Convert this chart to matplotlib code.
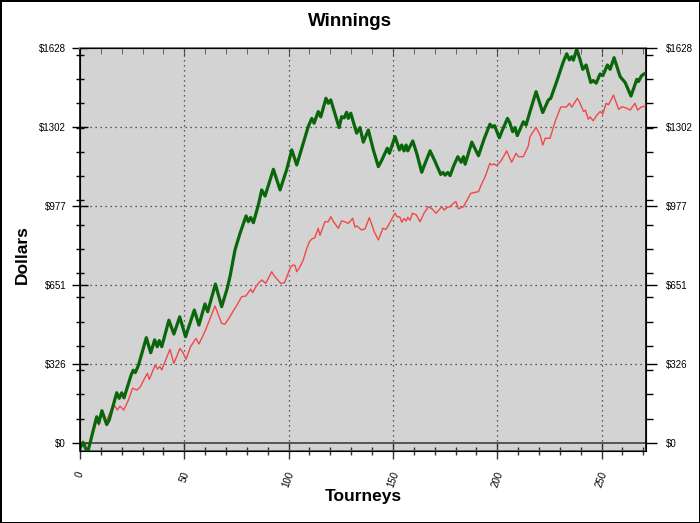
import numpy as np, matplotlib; matplotlib.use("Agg")
import matplotlib.pyplot as plt
from matplotlib.ticker import MultipleLocator, FixedLocator

plt.rcParams['font.family'] = ['Liberation Sans', 'DejaVu Sans']

# tourney number / cumulative dollars
green_t = [0,1.5,3,4,8,9,10.5,12.8,14,17.6,18.8,20,21.1,24.5,25.5,26.5,28,31.8,33.9,35.8,37,38,39.2,42.6,45,47.8,50.6,54.8,57,59.9,61.2,64.9,67.9,70.6,72,74.3,76.7,79.6,80.7,81.8,83.1,85.5,87.1,88.7,92.7,95.9,99.1,101.5,103.9,107,109.4,111.1,112.2,114.2,115.4,117.9,119,120.2,124.2,125.4,126.6,127.8,128.6,129.8,132.6,134.2,135.8,138.2,140.6,143,144.6,147.3,148.3,151,153.1,154.2,155.3,156.3,157.1,159.5,161.4,163.8,165.3,167.8,170.2,172.9,174,175,176.3,177.4,179,181.1,182.7,183.8,184.6,187.8,191,193.7,196.5,197.6,198.7,201,202,204.9,206,207.4,208.5,209.6,212.5,213.8,215.7,218.6,221.8,224.5,225.6,228.5,231.7,233.3,234.6,235.7,236.5,238.1,239.7,241,242.6,244.8,246,247.4,249.3,250.6,252.8,254.1,256,258.9,261.3,264.1,266.9,267.7,269.2,270.9]
green_d = [-22,2,-28,-28,108,82,133,76,95,207,184,207,186,280,300,290,320,434,372,425,397,422,397,506,449,520,438,548,486,573,541,655,562,638,690,796,864,936,912,930,908,981,1043,1018,1128,1043,1128,1208,1146,1235,1304,1338,1318,1366,1344,1421,1400,1414,1300,1345,1340,1363,1338,1359,1277,1300,1240,1290,1208,1139,1165,1215,1194,1263,1208,1228,1204,1228,1204,1245,1194,1116,1150,1204,1160,1107,1115,1104,1115,1102,1140,1180,1157,1180,1149,1240,1184,1253,1314,1302,1308,1258,1280,1338,1320,1283,1300,1267,1324,1310,1366,1448,1362,1414,1420,1490,1572,1604,1579,1592,1578,1623,1580,1540,1558,1486,1494,1483,1521,1514,1558,1540,1588,1510,1486,1430,1499,1490,1514,1524]

red_t = [0,1.5,2.8,4,8,9,10.4,12.3,15.2,16.8,17.9,19.2,21,23.2,25.2,27.2,28.8,30.7,32.3,33.2,36,37.2,38.3,39.2,43.1,45,47.9,49.5,50.8,53,55.6,57,59.1,60.4,62.7,64.7,67.9,69.5,71.9,73.5,75,77.5,79.5,81.8,82.8,84,85.5,87.1,89,90.3,91.9,93,96.2,98,100.7,102,103,103.9,105.5,107,108.7,110,111.1,112.5,114.2,115,117.4,119,120.2,121.5,123.8,125.4,127,128.6,130.7,131.8,132.6,135,136.6,138.7,141,143,144.6,145.1,146.6,148,151,152.1,153.3,154.2,155.3,156.3,157.1,158.2,159.3,161.2,163,164.9,167,168.6,170.7,173.4,174.6,175.8,177.4,179,180.2,181.4,183.8,185.5,187.3,189.3,191,192.3,194.2,196.5,197.3,198.5,199.7,201.8,204.5,206.9,209,210.2,212.5,214.9,215.7,218.6,220.5,221.8,223,225.3,227.7,230.4,231.7,233,234.6,235.7,238.4,239.7,241.4,242.2,243.7,244.5,246,247.6,249.3,250.6,252.2,253.3,255.7,258.2,259.8,262,263.7,266,267.3,268.9,270.9]
red_d = [-5,8,-29,-20,108,74,124,82,143,152,136,152,136,177,226,218,230,262,287,262,321,305,315,301,386,328,390,370,345,397,431,408,445,470,521,565,493,490,521,545,565,603,606,634,620,640,658,672,658,679,706,690,658,660,720,734,732,706,727,754,802,830,841,845,885,856,912,912,933,912,885,915,912,905,926,890,895,878,882,929,871,837,871,885,880,900,947,932,932,910,925,915,930,918,947,940,912,947,974,966,947,974,960,970,974,988,995,965,974,1000,1029,1033,1036,1063,1098,1153,1146,1150,1143,1162,1204,1157,1194,1180,1180,1224,1263,1301,1270,1228,1256,1256,1324,1384,1386,1384,1400,1384,1421,1400,1366,1372,1334,1344,1328,1350,1366,1356,1400,1394,1434,1375,1386,1380,1372,1400,1372,1384,1389]

y_major = [0, 325.6, 651.2, 976.8, 1302.4, 1628]
y_labels = ["$0", "$326", "$651", "$977", "$1302", "$1628"]
x_major = [0, 50, 100, 150, 200, 250]

fig = plt.figure(figsize=(7, 5.23), dpi=100, facecolor="white", edgecolor="black", linewidth=2)
ax = fig.add_axes([80/700, 72/523, 566/700, 403/523])
ax.set_facecolor("#d3d3d3")
ax.set_xlim(0, 271.3); ax.set_ylim(-33, 1628)

for x in x_major[1:]:
    ax.axvline(x, color="#303030", ls=(0, (1, 3)), lw=0.9, zorder=1)
for y in y_major[1:-1]:
    ax.axhline(y, color="#303030", ls=(0, (1, 3)), lw=0.9, zorder=1)
ax.axhline(0, color="#404040", lw=1.2, zorder=2)

ax.plot(red_t, red_d, color="#f24848", lw=1.0, zorder=3)
ax.plot(green_t, green_d, color="#0a660a", lw=2.3, zorder=4)

ax.set_xticks(x_major); ax.set_xticklabels([str(v) for v in x_major], rotation=70, fontsize=7)
ax.xaxis.set_minor_locator(MultipleLocator(10))
ax.set_yticks(y_major); ax.set_yticklabels(y_labels, fontsize=7)
ax.yaxis.set_minor_locator(MultipleLocator(100))
ax.tick_params(axis="x", which="major", direction="inout", length=12, width=1, pad=8, color="#333333")
ax.tick_params(axis="x", which="minor", direction="inout", length=6, width=1, color="#333333")
ax.tick_params(axis="y", which="major", direction="inout", length=12, width=1, pad=4)
ax.tick_params(axis="y", which="minor", direction="inout", length=6, width=1)
for lab in ax.get_xticklabels():
    lab.set_ha("center"); lab.set_va("top")

ax.spines["top"].set_color("#808080"); ax.spines["top"].set_linewidth(1.5)
ax.spines["bottom"].set_color("#505050"); ax.spines["bottom"].set_linewidth(1.2)
ax.spines["left"].set_linewidth(1.2); ax.spines["right"].set_linewidth(1.2)

top = ax.secondary_xaxis("top")
top.set_xticks(x_major); top.set_xticklabels([])
top.xaxis.set_minor_locator(MultipleLocator(10))
top.tick_params(which="major", direction="in", length=6, color="#555555")
top.tick_params(which="minor", direction="in", length=4, color="#555555")
top.spines["top"].set_visible(False)

right = ax.twinx()
right.set_ylim(ax.get_ylim())
right.set_yticks(y_major); right.set_yticklabels(y_labels, fontsize=7)
right.yaxis.set_minor_locator(MultipleLocator(100))
right.tick_params(which="major", direction="out", length=8, width=1, pad=6)
right.tick_params(which="minor", direction="out", length=5, width=1)

fig.text(0.5, 1 - 22/523, "Winnings", ha="center", va="center", fontsize=13.5, fontweight="bold")
fig.text(363/700, 1 - 497/523, "Tourneys", ha="center", va="center", fontsize=12.5, fontweight="bold")
fig.text(22/700, 1 - 255/523, "Dollars", ha="center", va="center", rotation=90, fontsize=12.5, fontweight="bold")

fig.savefig("out.png", dpi=100)
